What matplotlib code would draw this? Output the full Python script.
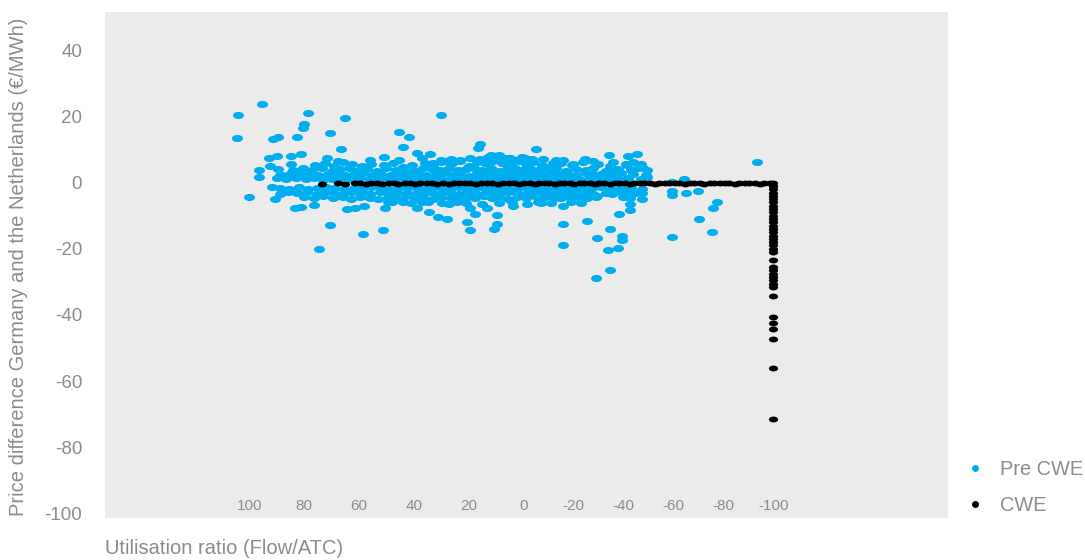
import numpy as np
import matplotlib
matplotlib.use("Agg")
import matplotlib.pyplot as plt
from matplotlib.path import Path
from matplotlib.transforms import Affine2D
from matplotlib.lines import Line2D

plt.rcParams['font.family'] = ['Liberation Sans', 'DejaVu Sans']

# ---------------------------------------------------------------- data
x_ticks = [100, 80, 60, 40, 20, 0, -20, -40, -60, -80, -100]
x_tick_labels = ["100", "80", "60", "40", "20", "0", "-20", "-40", "-60", "-80", "-100"]
y_ticks = [40, 20, 0, -20, -40, -60, -80, -100]

# Pre CWE: dense band around zero, listed row by row (utilisation, price difference)
pre_band_h_x = [30, 26.5, 23, 19.5, 16, 13, 10, 6.5, 3, -0.5, -3.5, -8, -13]
pre_band_h_y = [6.9, 7.3, 7.0, 7.6, 7.2, 7.8, 7.1, 7.5, 7.0, 7.4, 7.1, 7.3, 6.9]
pre_band_a_x = [76, 72.5, 69, 66, 62.5, 59, 55.5, 51, 47.5, 44, 40.5, 36, 33, 30, 26.5, 23, 20, 17, 14, 11,
                8, 5, 2, -1, -4, -7.5, -12, -15, -20, -24, -30, -36, -41, -44, -47]
pre_band_a_y = [5.2, 5.8, 5.0, 6.1, 5.5, 4.9, 5.7, 5.3, 6.0, 4.8, 5.4, 5.9, 5.1, 6.2, 5.6, 6.4, 5.0, 6.3, 5.8, 6.6,
                5.9, 6.0, 6.5, 5.7, 6.2, 5.4, 5.9, 6.0, 5.5, 6.1, 5.6, 6.3, 5.7, 6.2, 5.5]
pre_band_b_x = [84, 80.5, 77, 73.5, 70, 67, 63.5, 60, 57, 53.5, 50, 46.5, 43, 39.5, 36.5, 33.5, 30.5, 27, 24, 21,
                18, 15, 12, 9, 6, 3, 0, -3, -6, -9.5, -13, -17, -21, -25, -28, -33, -38, -43, -46]
pre_band_b_y = [3.7, 4.3, 3.9, 4.4, 3.6, 4.1, 4.5, 3.8, 4.2, 3.5, 4.4, 3.9, 4.1, 3.6, 4.3, 4.0, 3.7, 4.4, 3.8, 4.2,
                4.5, 3.9, 4.3, 3.6, 4.1, 4.4, 3.8, 4.2, 3.7, 4.0, 4.3, 3.5, 4.1, 3.9, 4.4, 3.6, 4.2, 3.8, 4.3]
pre_band_c_x = [88, 85, 81.5, 78, 75, 71.5, 68.5, 65, 62, 58.5, 55, 52, 48.5, 45, 42, 38.5, 35.5, 32, 29, 26,
                23, 20, 17, 14, 11, 8, 5, 2, -1, -4, -7, -10.5, -14, -17.5, -21, -24.5, -28, -31, -35, -39,
                -44, -49]
pre_band_c_y = [2.4, 2.9, 2.5, 2.8, 2.2, 2.7, 3.0, 2.3, 2.6, 2.9, 2.4, 2.7, 2.2, 2.8, 2.5, 3.0, 2.3, 2.6, 2.9, 2.4,
                2.7, 2.1, 2.8, 2.5, 3.0, 2.3, 2.6, 2.9, 2.4, 2.7, 2.2, 2.8, 2.5, 2.6, 2.3, 2.9, 2.5, 2.7, 2.4, 2.8,
                2.6, 2.2]
pre_band_d_x = [90, 86.5, 83, 79.5, 76.5, 73, 70, 66.5, 63, 60, 56.5, 53, 50, 46.5, 43.5, 40, 37, 33.5, 30.5, 27.5,
                24.5, 21.5, 18.5, 15.5, 12.5, 9.5, 6.5, 3.5, 0.5, -2.5, -5.5, -9, -12.5, -16, -19.5, -23, -26.5,
                -30, -34, -38, -42, -47]
pre_band_d_y = [1.3, 1.0, 1.4, 1.1, 1.5, 0.9, 1.2, 1.4, 1.0, 1.3, 1.1, 1.5, 0.9, 1.2, 1.4, 1.0, 1.3, 1.1, 1.5, 0.9,
                1.2, 1.4, 1.0, 1.3, 1.1, 1.5, 0.9, 1.2, 1.4, 1.0, 1.3, 1.1, 1.2, 1.0, 1.4, 0.9, 1.3, 1.1, 1.2, 1.0,
                1.4, 1.1]
pre_band_e_x = [89, 85.5, 82, 78.5, 75.5, 72, 69, 65.5, 62, 59, 55.5, 52, 49, 45.5, 42.5, 39, 36, 32.5, 29.5, 26.5,
                23.5, 20.5, 17.5, 14.5, 11.5, 8.5, 5.5, 2.5, -0.5, -3.5, -6.5, -10, -13.5, -17, -20.5, -24, -27.5,
                -31, -35, -39, -43, -47.5]
pre_band_e_y = [-1.5, -1.8, -1.4, -1.9, -1.6, -1.3, -1.7, -2.0, -1.5, -1.8, -1.4, -1.6, -1.9, -1.3, -1.7, -1.5,
                -2.0, -1.4, -1.8, -1.6, -1.3, -1.9, -1.5, -1.7, -1.4, -2.0, -1.6, -1.8, -1.3, -1.7, -1.5, -1.9,
                -1.4, -1.6, -1.8, -1.5, -1.7, -1.4, -1.9, -1.6, -1.5, -1.8]
pre_band_f_x = [86, 82.5, 79, 75.5, 72.5, 69, 66, 62.5, 59, 56, 52.5, 49, 46, 42.5, 39.5, 36, 33, 29.5, 26.5, 23.5,
                20.5, 17.5, 14.5, 11.5, 8.5, 5.5, 2.5, -0.5, -3.5, -7, -10.5, -14, -17.5, -21, -24.5, -28, -33,
                -37, -41, -45]
pre_band_f_y = [-2.8, -3.2, -2.9, -3.3, -2.7, -3.1, -3.4, -2.8, -3.0, -3.3, -2.9, -3.2, -2.7, -3.1, -3.4, -2.9,
                -3.2, -2.8, -3.0, -3.3, -2.7, -3.1, -3.4, -2.9, -3.2, -2.8, -3.0, -3.3, -2.9, -3.1, -3.4, -2.8,
                -3.2, -3.0, -2.9, -3.3, -3.1, -2.8, -3.2, -3.0]
pre_band_g_x = [80, 76.5, 73, 69.5, 66, 63, 59.5, 56, 53, 49.5, 46, 43, 39.5, 36.5, 33, 30, 26.5, 23.5, 20.5, 17.5,
                14.5, 11.5, 8.5, 5.5, 2.5, -1, -4.5, -8, -11.5, -15, -18.5, -22, -25.5, -29]
pre_band_g_y = [-4.3, -4.7, -4.1, -4.6, -4.4, -4.9, -4.2, -4.5, -4.8, -4.3, -4.6, -4.1, -4.7, -4.4, -4.9, -4.2,
                -4.5, -4.8, -4.3, -4.6, -4.0, -4.7, -4.4, -4.8, -4.2, -4.5, -4.1, -4.6, -4.3, -4.7, -4.4, -4.2,
                -4.6, -4.3]
pre_band_i_x = [48, 41, 35, 27, 21, 15, 9, 4, -1.5, -6, -11, -19, -23]
pre_band_i_y = [-5.9, -6.3, -6.0, -6.5, -6.1, -6.6, -6.2, -5.8, -6.4, -6.0, -6.3, -5.9, -6.2]

# Pre CWE: scattered hours away from the band
pre_spread_left = [(104.2, 20.5), (104.4, 13.6), (95.3, 23.8), (100, -4.4), (78.5, 21.2), (65.1, 19.5),
                   (80, 17.7), (80.5, 16.5), (70.7, 15.1), (89.5, 13.9), (91.5, 13.1), (82.6, 13.8),
                   (66.6, 10.3), (92.7, 7.4), (89.8, 8.0), (84.9, 8.1), (81.3, 8.6), (84.8, 5.7), (71.6, 7.6),
                   (67.6, 6.6), (96.5, 3.7), (96.5, 1.8), (92.5, 5.1), (89.5, 4.2), (88.8, 2.4), (84, 2.4),
                   (91.9, -1.4), (88.8, -3.4), (90.7, -5.0), (85.8, -2.4), (83.4, -7.7), (81.2, -7.4),
                   (76.3, -6.8), (70.6, -12.7), (58.4, -15.5), (74.5, -20.0), (64.5, -8.0), (61.5, -7.8),
                   (58.2, -7.2)]
pre_spread_mid = [(30.2, 20.4), (45.3, 15.2), (41.9, 13.8), (44, 10.9), (50.9, 7.8), (45.3, 6.9), (38.7, 9.0),
                  (37.1, 7.6), (34.1, 8.6), (32.9, 5.9), (15.8, 11.6), (16.7, 10.4), (11.9, 8.4), (8.8, 8.4),
                  (4.9, 7.4), (28, 6.4), (26.2, 5.9), (56, 6.9), (50.4, -7.8), (51.1, -14.4), (38.7, -7.8),
                  (34.3, -9.0), (31.1, -10.5), (27.8, -11.0), (20.7, -11.9), (19.5, -14.2), (9.7, -9.7),
                  (9.7, -12.6), (10.7, -14.1), (17.6, -9.5), (19.5, -7.7), (13.4, -7.7), (3.7, -7.2),
                  (49.3, -5.7), (43.8, -5.7), (37.1, -5.7), (29.8, -6.2), (24.3, -5.7), (56, -3.5)]
pre_spread_right = [(-4.9, 10.1), (-16, 6.9), (-34.4, 8.5), (-42, 8.1), (-45.6, 8.7), (-24.6, 7.1), (-28, 6.4),
                    (-11, 4.6), (-19.6, 5.2), (-34.6, 4.9), (-41.3, 5.2), (-49.3, 3.9), (-49.3, 1.8),
                    (-36.6, 3.4), (-48, 4.4), (0.6, 7.9), (-7, -6.2), (-16, -7.0), (-12.6, -4.7), (-25.3, -2.4),
                    (-29.3, -4.0), (-35.6, -3.4), (-40, -4.4), (-42.6, -4.7), (-42.6, -6.4), (-42.6, -8.4),
                    (-47.3, -3.0), (-47.3, -5.0), (-38.2, -9.4), (-15.7, -12.5), (-25.3, -11.5),
                    (-15.7, -19.0), (-29.3, -16.8), (-34.6, -14.0), (-39.6, -16.1), (-39.3, -17.3),
                    (-37.7, -19.8), (-34, -20.3), (-34.6, -26.4), (-29, -28.7)]
pre_spread_far = [(-93.3, 6.1), (-64.4, 1.1), (-59.3, 0.3), (-59.3, -2.5), (-59.3, -3.7), (-65, -3.2),
                  (-69.7, -2.5), (-77.6, -5.7), (-75.7, -7.8), (-70.4, -10.9), (-75.4, -15.0), (-59.4, -16.3)]

# CWE: hours along zero price difference, then the saturated -100 column
cwe_flat_x = [73.6, 67.7, 65.1, 61.5, 59.6, 57.4, 55.6, 53.3, 51.5, 49.2, 47.4, 45.6, 43.3, 41.5, 39.4, 37.6,
              35.3, 33.5, 31.6, 29.4, 27.3, 25.5, 23.6, 21.4, 19.5, 17.3, 15.6, 13.4, 11.5, 9.3, 7.6, 5.4, 3.5,
              1.6, -0.4, -2.6, -4.5, -6.3, -8.6, -10.4, -12.5, -14.6, -16.4, -18.5, -20.3, -22.6, -24.4, -26.5,
              -28.6, -30.4, -32.3, -34.6, -36.5, -38.4, -40.6, -42.5, -44.3, -46.6, -48.4, -50.5, -52.6, -54.4,
              -56.5, -58.3, -60.6, -62.4, -64.5, -66.6, -68.4, -70.5, -72.3, -74.6, -76.4, -78.5, -80.6, -82.4,
              -84.5, -86.3, -88.6, -90.4, -92.5, -94.6, -96.4, -98.5]
cwe_flat_y = [-0.3, -0.2, -0.3, -0.2,
              -0.2, -0.3, -0.1, -0.2, -0.3, -0.2, -0.1, -0.3, -0.2, -0.2,
              -0.3, -0.2, -0.2, -0.1, -0.3, -0.2, -0.3, -0.2, -0.1, -0.2,
              -0.2, -0.3, -0.2, -0.1, -0.2, -0.3, -0.2, -0.2, -0.1, -0.3,
              -0.2, -0.2, -0.3, -0.1, -0.2, -0.2, -0.3, -0.2, -0.1, -0.2,
              -0.3, -0.2, -0.2, -0.1, -0.3, -0.2, -0.2, -0.3, -0.2, -0.1,
              -0.2, -0.3, -0.2, -0.2, -0.1, -0.2, -0.3, -0.2, -0.2, -0.1,
              -0.2, -0.2, -0.3, -0.2, -0.1, -0.2, -0.3, -0.2, -0.2, -0.2,
              -0.1, -0.2, -0.3, -0.2, -0.2, -0.1, -0.2, -0.3, -0.2, -0.2]
cwe_column_x = -100
cwe_column_y = [0, -1, -2, -3, -4, -5, -6, -7, -8, -9, -10, -11, -12, -13, -14, -15, -16, -17, -18, -19, -20,
                -21, -23.5, -25.5, -26.5, -27.5, -28.5, -29.5, -30.5, -31.5, -34.3, -40.7, -42.4, -44.2,
                -47.2, -56, -71.5]

# ---------------------------------------------------------------- assemble series
pre_pts = []
for xs, ys in [(pre_band_h_x, pre_band_h_y), (pre_band_a_x, pre_band_a_y), (pre_band_b_x, pre_band_b_y),
               (pre_band_c_x, pre_band_c_y), (pre_band_d_x, pre_band_d_y), (pre_band_e_x, pre_band_e_y),
               (pre_band_f_x, pre_band_f_y), (pre_band_g_x, pre_band_g_y), (pre_band_i_x, pre_band_i_y)]:
    pre_pts.extend(zip(xs, ys, strict=True))
pre_pts += pre_spread_left + pre_spread_mid + pre_spread_right + pre_spread_far
pre_x, pre_y = np.array(pre_pts).T

cwe_pts = list(zip(cwe_flat_x, cwe_flat_y, strict=True)) + [(cwe_column_x, v) for v in cwe_column_y]
cwe_x, cwe_y = np.array(cwe_pts).T

# ---------------------------------------------------------------- styling
BLUE = "#00aeef"
BG = "#ebebeb"
TXT = "#8c8c8c"

# flattened dot marker
ellipse = Path.unit_circle().transformed(Affine2D().scale(1.0, 0.64))


def fwd(x):
    x = np.asarray(x, dtype=float)
    return np.where(x >= 0, x * 1.096, x)


def inv(u):
    u = np.asarray(u, dtype=float)
    return np.where(u >= 0, u / 1.096, u)


fig = plt.figure(figsize=(10.85, 5.6), dpi=100)
ax = fig.add_axes([105 / 1085, 1 - 518 / 560, (948 - 105) / 1085, (518 - 12) / 560])
ax.set_facecolor(BG)
ax.set_xscale("function", functions=(fwd, inv))

ax.scatter(pre_x, pre_y, s=64, marker=ellipse, color=BLUE, linewidths=0, zorder=2)
ax.scatter(cwe_x, cwe_y, s=44, marker=ellipse, color="black", linewidths=0, zorder=3)

ax.set_xlim(152.7, -169.8)
ax.set_ylim(-101.4, 51.6)

ax.set_xticks(x_ticks)
ax.set_xticklabels(x_tick_labels)
ax.set_yticks(y_ticks)
ax.set_yticklabels([str(v) for v in y_ticks])
ax.tick_params(axis="x", length=0, pad=-14, labelsize=11, labelcolor=TXT)
ax.tick_params(axis="y", length=0, pad=16.5, labelsize=13.5, labelcolor=TXT)
for s in ax.spines.values():
    s.set_visible(False)

ax.set_ylabel("Price difference Germany and the Netherlands (€/MWh)", fontsize=14.5, color=TXT)
ax.yaxis.set_label_coords(-0.0913, 0.496)
ax.set_xlabel("Utilisation ratio (Flow/ATC)", fontsize=14.5, color=TXT, loc="left")
ax.xaxis.set_label_coords(0.0, -0.042)

handles = [Line2D([], [], ls="", marker="o", markersize=5, color=BLUE, markeredgewidth=0),
           Line2D([], [], ls="", marker="o", markersize=5, color="black", markeredgewidth=0)]
fig.legend(handles, ["Pre CWE", "CWE"], loc="upper left", bbox_to_anchor=(965 / 1085, 1 - 460 / 560),
           frameon=False, fontsize=14.4, labelcolor=TXT, handlelength=1.0, handletextpad=0.75,
           labelspacing=0.83, borderpad=0, borderaxespad=0)

fig.savefig("out.png", dpi=100)
